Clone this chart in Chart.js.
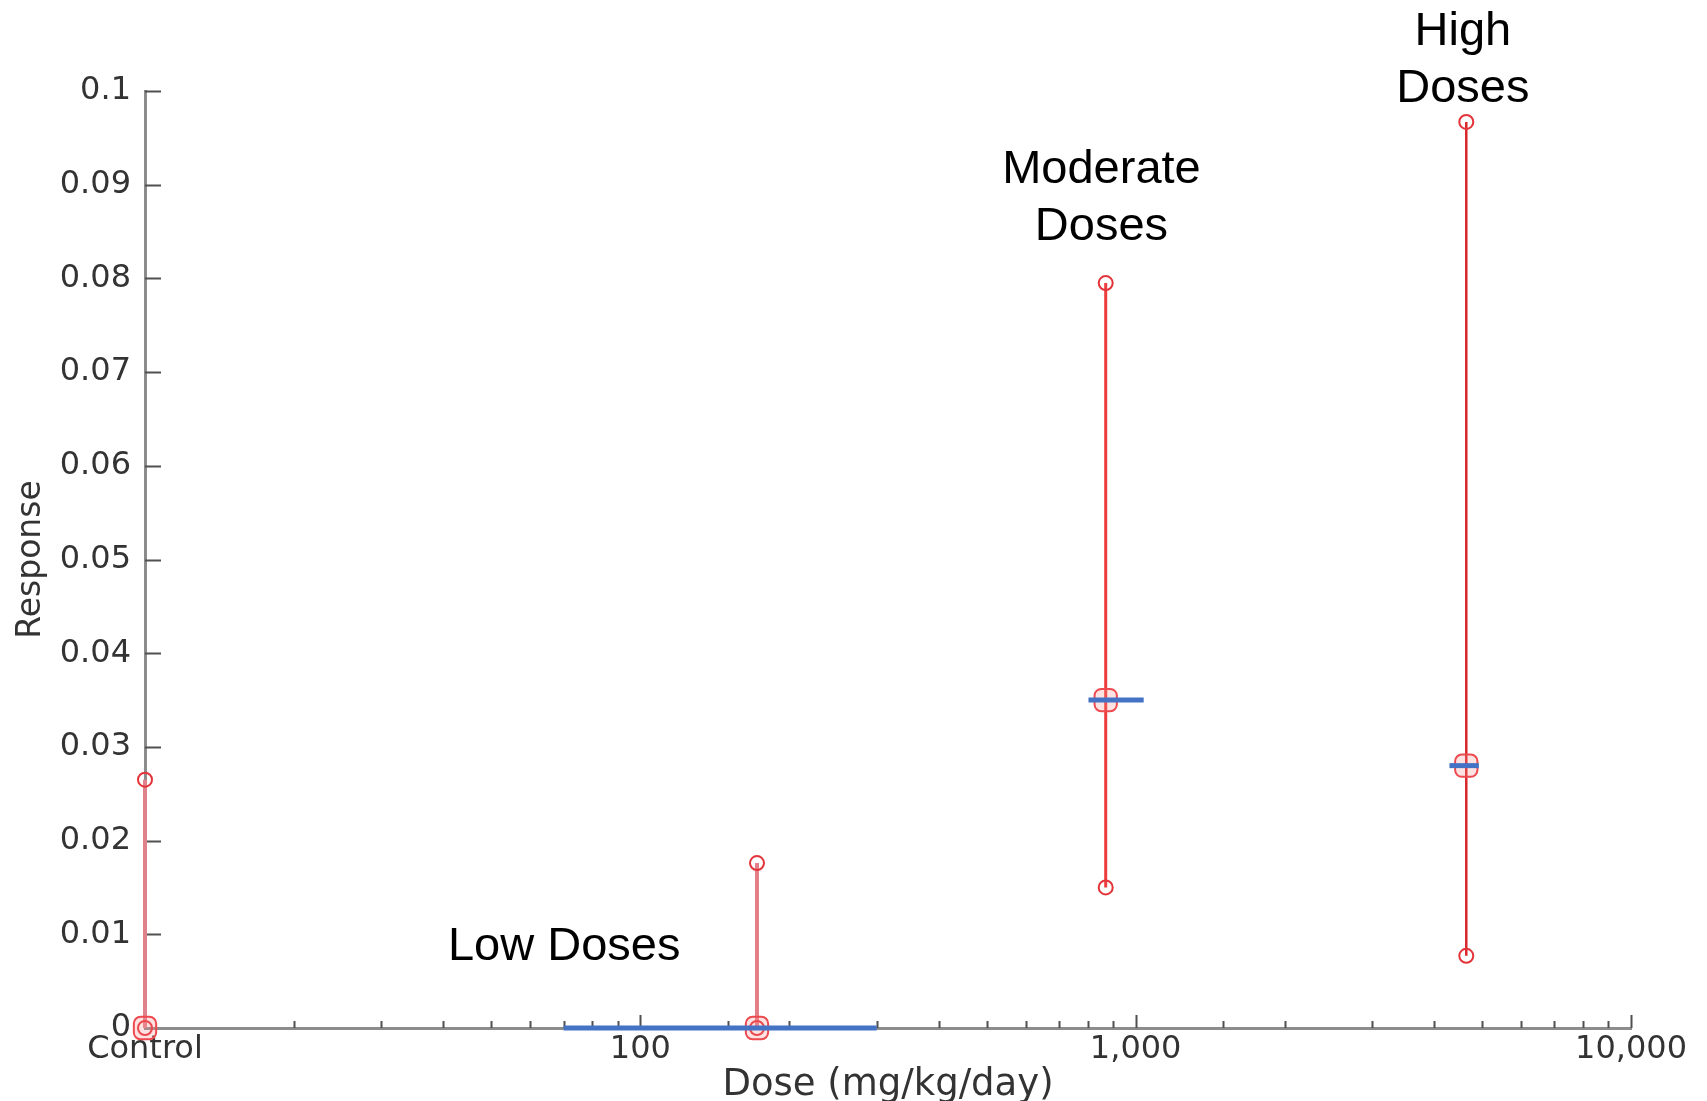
<!DOCTYPE html>
<html>
<head>
<meta charset="utf-8">
<script src="https://cdn.jsdelivr.net/npm/chart.js@4.4.0/dist/chart.umd.min.js"></script>
<style>
  html, body { margin: 0; padding: 0; background: #fff; }
  canvas { display: block; }
</style>
</head>
<body>
<canvas id="chart" width="1707" height="1101"></canvas>
<script>
// dose groups; the control group sits at the left end of the log axis
const groups = ['Control', 'Low', 'Moderate', 'High'];
const doses = [10, 172, 870, 4650];
const means = [0, 0, 0.035, 0.028];
const lower = [0, 0, 0.015, 0.0077];
const upper = [0.0265, 0.0176, 0.0795, 0.0967];

// blue segments at the group mean
const fitFrom = [null, 70, 803, 4300];
const fitTo = [null, 300, 1038, 4930];

// labelled x ticks
const xLabelValues = [10, 100, 1000, 10000];
const xLabelTexts = ['Control', '100', '1,000', '10,000'];

// group captions, anchored in data units (x dose, y response of first line)
const noteLines = [['Low Doses'], ['Moderate', 'Doses'], ['High', 'Doses']];
const noteX = [70.2, 853, 4577];
const noteY = [0.00902, 0.0920, 0.1067];

const barColors = ['#e0828c', '#e47f88', '#ee3b3b', '#d8262a'];
const barWidths = [4, 4, 3, 2.5];

const datasets = [];
groups.forEach((g, i) => {
  if (fitFrom[i] == null) return;
  datasets.push({
    label: g + ' fit',
    data: [{x: fitFrom[i], y: means[i]}, {x: fitTo[i], y: means[i]}],
    showLine: true,
    borderColor: '#4472c4',
    borderWidth: 5,
    pointRadius: 0,
    clip: false
  });
});
datasets.push({
  label: 'mean',
  data: doses.map((d, i) => ({x: d, y: means[i]})),
  showLine: false,
  pointStyle: 'rectRounded',
  pointRadius: 13,
  pointBorderWidth: 2,
  pointBorderColor: '#ec4a4f',
  pointBackgroundColor: 'rgba(255,140,140,0.25)',
  clip: false
});
groups.forEach((g, i) => {
  datasets.push({
    label: g,
    data: [{x: doses[i], y: lower[i]}, {x: doses[i], y: upper[i]}],
    showLine: true,
    borderColor: barColors[i],
    borderWidth: barWidths[i],
    pointStyle: 'circle',
    pointRadius: 7,
    pointBorderWidth: 2,
    pointBorderColor: '#e3343a',
    pointBackgroundColor: 'rgba(255,255,255,0)',
    clip: false
  });
});

const decor = {
  id: 'decor',
  beforeDatasetsDraw(chart) {
    const {ctx, scales: {x, y}} = chart;
    ctx.save();
    ctx.strokeStyle = '#505050';
    ctx.lineWidth = 2;
    ctx.beginPath();
    y.ticks.forEach(t => {
      if (t.value === 0) return;
      const py = Math.round(y.getPixelForValue(t.value)) + 0.5;
      ctx.moveTo(x.left, py);
      ctx.lineTo(x.left + 16, py);
    });
    x.ticks.forEach(t => {
      if (t.value <= 10) return;
      const px = Math.round(x.getPixelForValue(t.value)) + 0.5;
      const len = xLabelValues.includes(t.value) ? 13 : 7;
      ctx.moveTo(px, y.bottom);
      ctx.lineTo(px, y.bottom - len);
    });
    ctx.stroke();
    ctx.restore();
  },
  afterDraw(chart) {
    const {ctx, scales: {x, y}} = chart;
    const size = 47;
    ctx.save();
    ctx.fillStyle = '#000';
    ctx.font = size + 'px "Liberation Sans", Arial, sans-serif';
    ctx.textAlign = 'center';
    ctx.textBaseline = 'alphabetic';
    noteLines.forEach((lines, i) => {
      const px = x.getPixelForValue(noteX[i]);
      const py = y.getPixelForValue(noteY[i]);
      lines.forEach((s, k) => {
        ctx.fillText(s, px, py + k * 57 + 0.358 * size);
      });
    });
    ctx.restore();
  }
};

new Chart(document.getElementById('chart'), {
  type: 'scatter',
  data: { datasets },
  plugins: [decor],
  options: {
    responsive: false,
    animation: false,
    layout: { padding: { top: 91, right: 76, left: 0, bottom: 0 } },
    plugins: { legend: { display: false }, tooltip: { enabled: false } },
    scales: {
      x: {
        type: 'logarithmic',
        min: 10,
        max: 10000,
        afterFit: s => { s.height = 73; },
        grid: { display: false, drawTicks: false },
        border: { color: '#8c8c8c', width: 3 },
        ticks: {
          autoSkip: false,
          maxRotation: 0,
          padding: 2,
          color: '#333',
          font: { family: 'DejaVu Sans', size: 32 },
          callback: v => {
            const i = xLabelValues.indexOf(v);
            return i >= 0 ? xLabelTexts[i] : '';
          }
        },
        title: {
          display: true,
          text: 'Dose (mg/kg/day)',
          color: '#333',
          font: { family: 'DejaVu Sans', size: 37 },
          padding: { top: 0, bottom: -7 }
        }
      },
      y: {
        min: 0,
        max: 0.1,
        afterFit: s => { s.width = 145; },
        grid: { display: false, drawTicks: false },
        border: { color: '#8c8c8c', width: 3 },
        ticks: {
          stepSize: 0.01,
          padding: 14,
          color: '#333',
          font: { family: 'DejaVu Sans', size: 32 },
          callback: v => String(+v.toFixed(2))
        },
        title: {
          display: true,
          text: 'Response',
          color: '#333',
          font: { family: 'DejaVu Sans', size: 33 },
          padding: { top: 12, bottom: 0 }
        }
      }
    }
  }
});
</script>
</body>
</html>
